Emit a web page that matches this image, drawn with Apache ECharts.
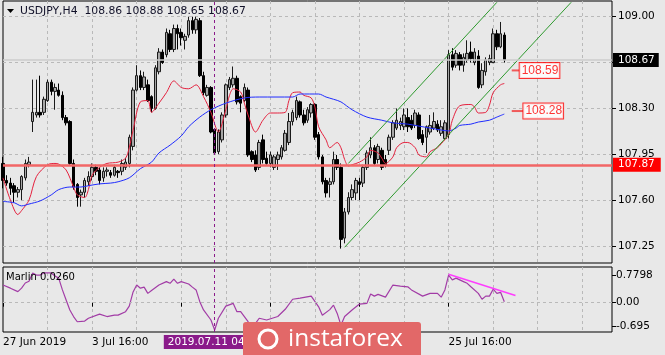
<!DOCTYPE html>
<html>
<head>
<meta charset="utf-8">
<title>USDJPY H4</title>
<script src="https://cdn.jsdelivr.net/npm/echarts@6/dist/echarts.min.js"></script>
<style>
  html, body { margin: 0; padding: 0; background: #e8e8e8; }
  #chart { width: 665px; height: 355px; }
</style>
</head>
<body>
<div id="chart"></div>
<script>
  // 136 H4 bars, the rest of the slots is the empty chart shift on the right
  const slotCount = 165
  const xTickLabels = {0: '27 Jun 2019', 24: '3 Jul 16:00', 120: '25 Jul 16:00'}

  // [open, close, low, high]
  const candles = [
    [107.88, 107.75, 107.69, 107.93], [107.75, 107.73, 107.71, 107.79], [107.73, 107.69, 107.64, 107.77],
    [107.71, 107.66, 107.58, 107.73], [107.66, 107.68, 107.62, 107.70], [107.68, 107.78, 107.60, 107.79],
    [107.77, 107.88, 107.75, 107.91], [107.87, 107.89, 107.85, 107.93], [108.20, 108.27, 108.12, 108.52],
    [108.25, 108.27, 108.23, 108.52], [108.27, 108.25, 108.23, 108.55], [108.27, 108.37, 108.25, 108.39],
    [108.36, 108.50, 108.35, 108.52], [108.50, 108.43, 108.40, 108.52], [108.43, 108.46, 108.29, 108.49],
    [108.44, 108.40, 108.39, 108.49], [108.40, 108.23, 108.21, 108.43], [108.23, 108.19, 108.17, 108.25],
    [108.20, 107.88, 107.87, 108.21], [107.88, 107.70, 107.68, 107.91], [107.72, 107.62, 107.55, 107.73],
    [107.64, 107.66, 107.55, 107.68], [107.66, 107.75, 107.62, 107.77], [107.74, 107.78, 107.71, 107.82],
    [107.78, 107.85, 107.75, 107.88], [107.85, 107.82, 107.79, 107.87], [107.83, 107.75, 107.72, 107.85],
    [107.77, 107.82, 107.74, 107.85], [107.82, 107.83, 107.78, 107.85], [107.81, 107.79, 107.77, 107.83],
    [107.79, 107.85, 107.78, 107.87], [107.82, 107.81, 107.77, 107.83], [107.82, 107.88, 107.79, 107.91],
    [107.85, 107.89, 107.83, 107.92], [107.88, 108.08, 107.85, 108.10], [108.01, 108.44, 107.98, 108.46],
    [108.44, 108.55, 108.43, 108.63], [108.55, 108.46, 108.44, 108.59], [108.46, 108.54, 108.44, 108.58],
    [108.48, 108.36, 108.35, 108.52], [108.39, 108.30, 108.27, 108.40], [108.30, 108.61, 108.29, 108.63],
    [108.58, 108.73, 108.56, 108.76], [108.73, 108.65, 108.64, 108.75], [108.71, 108.88, 108.69, 108.91],
    [108.87, 108.75, 108.73, 108.90], [108.75, 108.91, 108.73, 108.94], [108.91, 108.87, 108.75, 108.94],
    [108.88, 108.84, 108.78, 108.91], [108.82, 108.85, 108.75, 108.87], [108.86, 108.97, 108.84, 109.00],
    [108.97, 108.90, 108.87, 109.00], [108.90, 108.98, 108.87, 109.00], [108.97, 108.55, 108.54, 108.99],
    [108.55, 108.42, 108.40, 108.58], [108.40, 108.46, 108.39, 108.48], [108.46, 108.12, 108.11, 108.47],
    [108.14, 107.96, 107.95, 108.15], [107.97, 108.12, 107.95, 108.14], [108.06, 108.25, 108.04, 108.27],
    [108.25, 108.48, 108.23, 108.49], [108.46, 108.52, 108.44, 108.54], [108.48, 108.53, 108.46, 108.62],
    [108.53, 108.35, 108.33, 108.55], [108.39, 108.34, 108.27, 108.40], [108.36, 108.46, 108.35, 108.49],
    [108.44, 107.945, 107.93, 108.46], [107.97, 107.91, 107.89, 107.98], [107.945, 107.83, 107.815, 107.98],
    [107.85, 108.04, 107.83, 108.06], [108.06, 107.91, 107.88, 108.10], [107.92, 107.88, 107.87, 107.97],
    [107.88, 107.945, 107.85, 107.97], [107.85, 107.93, 107.83, 107.945], [107.91, 107.945, 107.83, 107.97],
    [107.93, 108.00, 107.91, 108.02], [107.98, 108.11, 107.97, 108.135], [108.04, 108.20, 108.02, 108.265],
    [108.20, 108.27, 108.17, 108.29], [108.23, 108.36, 108.21, 108.39], [108.35, 108.25, 108.23, 108.36],
    [108.25, 108.19, 108.17, 108.29], [108.21, 108.29, 108.19, 108.31], [108.265, 108.33, 108.23, 108.34],
    [108.33, 108.08, 108.06, 108.34], [108.10, 107.93, 107.91, 108.12], [107.93, 107.74, 107.72, 107.945],
    [107.75, 107.655, 107.62, 107.77], [107.72, 107.74, 107.62, 107.77], [107.74, 107.91, 107.72, 107.97],
    [107.91, 107.85, 107.83, 107.945], [107.85, 107.30, 107.23, 107.88], [107.31, 107.51, 107.27, 107.54],
    [107.51, 107.62, 107.49, 107.66], [107.62, 107.68, 107.60, 107.72], [107.655, 107.75, 107.60, 107.77],
    [107.74, 107.72, 107.60, 107.77], [107.73, 107.85, 107.70, 107.87], [107.85, 107.96, 107.83, 107.98],
    [107.945, 108.00, 107.92, 108.08], [108.00, 107.88, 107.86, 108.02], [107.91, 108.01, 107.88, 108.03],
    [107.98, 107.85, 107.83, 108.00], [107.91, 107.87, 107.85, 107.945], [107.98, 108.08, 107.945, 108.10],
    [108.08, 108.19, 108.06, 108.21], [108.15, 108.21, 108.135, 108.30], [108.17, 108.20, 108.135, 108.23],
    [108.16, 108.25, 108.135, 108.30], [108.23, 108.16, 108.12, 108.30], [108.21, 108.15, 108.135, 108.25],
    [108.17, 108.265, 108.15, 108.29], [108.25, 108.07, 108.06, 108.27], [108.10, 108.04, 108.02, 108.135],
    [108.08, 108.16, 107.96, 108.17], [108.12, 108.17, 108.10, 108.25], [108.15, 108.20, 108.135, 108.27],
    [108.18, 108.135, 108.12, 108.21], [108.11, 108.16, 108.09, 108.21], [108.07, 108.19, 108.06, 108.21],
    [108.10, 108.71, 108.07, 108.745], [108.71, 108.615, 108.59, 108.76], [108.63, 108.72, 108.61, 108.745],
    [108.71, 108.63, 108.59, 108.73], [108.63, 108.69, 108.58, 108.72], [108.67, 108.72, 108.65, 108.82],
    [108.73, 108.68, 108.65, 108.81], [108.65, 108.73, 108.63, 108.76], [108.70, 108.46, 108.45, 108.745],
    [108.48, 108.59, 108.455, 108.645], [108.58, 108.67, 108.55, 108.69], [108.65, 108.68, 108.63, 108.71],
    [108.65, 108.87, 108.646, 108.91], [108.87, 108.77, 108.745, 108.90], [108.77, 108.87, 108.76, 108.96],
    [108.86, 108.67, 108.65, 108.88]
  ]

  // moving averages, [bar index, price]
  const redMA = [
    [0, 107.77], [2, 107.60], [4, 107.49], [5, 107.52], [7, 107.60], [9, 107.78], [12, 107.87], [14, 107.88],
    [15, 107.875], [17, 107.83], [19, 107.70], [20, 107.64], [22, 107.62], [23, 107.68], [24, 107.79],
    [26, 107.85], [28, 107.88], [31, 107.89], [33, 107.92], [34, 108.0], [35, 108.13], [37, 108.35],
    [39, 108.36], [40, 108.27], [42, 108.34], [44, 108.42], [46, 108.51], [48, 108.46], [50, 108.45],
    [52, 108.48], [54, 108.39], [56, 108.27], [58, 108.12], [60, 108.29], [61, 108.40], [62, 108.45],
    [64, 108.425], [65, 108.34], [66, 108.25], [68, 108.12], [70, 108.21], [72, 108.265], [74, 108.265],
    [76, 108.27], [77, 108.36], [78, 108.42], [80, 108.425], [81, 108.40], [83, 108.38], [84, 108.31],
    [85, 108.16], [87, 108.06], [88, 108.0], [90, 108.04], [91, 108.0], [92, 107.91], [93, 107.86],
    [94, 107.87], [96, 107.89], [98, 107.93], [99, 107.98], [101, 107.96], [102, 107.92], [103, 107.88],
    [105, 107.93], [106, 108.0], [108, 108.04], [109, 108.04], [111, 108.0], [112, 107.945], [114, 107.93],
    [115, 107.97], [117, 108.0], [118, 108.03], [120, 108.10], [121, 108.21], [123, 108.32], [126, 108.33],
    [127, 108.31], [128, 108.265], [130, 108.27], [131, 108.325], [132, 108.42], [134, 108.48], [135, 108.49]
  ]
  const blueMA = [
    [0, 107.59], [3, 107.58], [5, 107.556], [7, 107.57], [10, 107.594], [13, 107.64], [15, 107.68],
    [18, 107.70], [21, 107.70], [23, 107.71], [26, 107.724], [29, 107.73], [31, 107.74], [34, 107.77],
    [37, 107.84], [40, 107.89], [42, 107.96], [45, 108.02], [48, 108.09], [50, 108.16], [53, 108.234],
    [56, 108.29], [60, 108.34], [65, 108.38], [69, 108.387], [78, 108.387], [80, 108.41], [85, 108.41],
    [87, 108.387], [89, 108.37], [91, 108.35], [94, 108.29], [98, 108.234], [102, 108.21], [105, 108.19],
    [109, 108.18], [112, 108.165], [115, 108.15], [118, 108.135], [120, 108.128], [122, 108.15],
    [123, 108.17], [126, 108.18], [128, 108.196], [131, 108.21], [133, 108.234], [135, 108.257]
  ]

  // Marlin oscillator, [bar index, value]
  const marlin = [
    [0, 0.51], [2, 0.42], [4, 0.32], [5, 0.42], [6, 0.57], [7, 0.62], [8, 0.86], [9, 0.80], [10, 0.80],
    [11, 0.86], [13, 0.86], [14, 0.77], [15, 0.71], [16, 0.37], [17, 0.08], [18, -0.21], [19, -0.40],
    [20, -0.55], [22, -0.53], [23, -0.45], [26, -0.33], [28, -0.40], [30, -0.36], [31, -0.36], [33, -0.26],
    [34, -0.10], [35, 0.30], [36, 0.51], [37, 0.42], [38, 0.45], [39, 0.27], [40, 0.35], [42, 0.51],
    [44, 0.61], [45, 0.56], [46, 0.68], [47, 0.56], [48, 0.61], [50, 0.54], [51, 0.45], [52, 0.37],
    [53, 0.03], [54, -0.21], [56, -0.50], [57, -0.79], [58, -0.45], [60, -0.10], [62, -0.02], [63, -0.26],
    [64, -0.26], [66, -0.55], [67, -0.70], [68, -0.60], [69, -0.45], [71, -0.50], [74, -0.40], [76, -0.19],
    [78, 0.10], [80, 0.13], [83, 0.19], [85, -0.12], [86, -0.36], [88, -0.20], [89, -0.07], [90, -0.31],
    [91, -0.65], [92, -0.40], [94, -0.21], [96, -0.04], [98, -0.02], [99, 0.25], [100, 0.19], [101, 0.24],
    [103, 0.16], [105, 0.51], [107, 0.48], [109, 0.46], [110, 0.37], [113, 0.19], [115, 0.27], [117, 0.27],
    [118, 0.16], [119, 0.37], [120, 0.80], [121, 0.66], [122, 0.71], [124, 0.61], [125, 0.56], [126, 0.46],
    [128, 0.27], [129, 0.10], [130, 0.19], [131, 0.19], [132, 0.39], [133, 0.27], [134, 0.30], [135, 0.03]
  ]

  // drawn objects
  const channelLow = [[92, 107.24], [153, 109.11]]
  const channelHigh = [[93, 107.88], [133, 109.11]]
  const marlinTrend = [[120, 0.82], [138, 0.21]]
  const tagLow = {value: 108.28, from: 137, at: 140}
  const tagHigh = {value: 108.59, from: 137, at: 139}

  const priceTicks = [109.00, 108.65, 108.30, 107.95, 107.60, 107.25]
  const priceLabels = [109.00, 108.30, 107.95, 107.60, 107.25]
  const marlinTicks = [0.7798, 0, -0.695]
  const hLine = 107.87
  const lastPrice = 108.67
  const vLineIndex = 57
  const vLineLabel = '2019.07.11 04:00'

  const font = 'DejaVu Sans'
  const slots = Array.from({length: slotCount}, (_, i) => String(i))
  const last = candles[candles.length - 1]
  const title = 'USDJPY,H4  ' + [last[0], last[3], last[2], last[1]].map(v => v.toFixed(2)).join(' ')

  const gridDash = {color: '#b9b9b9', type: [3, 3], width: 1}

  const chart = echarts.init(document.getElementById('chart'))

  const tagLabel = {
    show: true,
    position: 'right',
    distance: 0,
    formatter: p => p.value[1].toFixed(2),
    color: '#ff0000',
    backgroundColor: '#ffffff',
    borderColor: '#ff0000',
    borderWidth: 1,
    padding: [2, 1, 1, 2],
    fontFamily: 'Liberation Sans',
    fontSize: 12
  }

  chart.setOption({
    backgroundColor: '#e8e8e8',
    animation: false,
    grid: [
      {left: 3, top: 1, width: 609, height: 262, show: true, borderColor: '#000', borderWidth: 1},
      {left: 3, top: 267, width: 609, height: 65, show: true, borderColor: '#000', borderWidth: 1}
    ],
    xAxis: [
      {
        type: 'category', gridIndex: 0, data: slots, boundaryGap: false,
        axisLine: {show: false}, axisTick: {show: false}, axisLabel: {show: false},
        splitLine: {show: true, interval: i => i % 12 === 0 && i > 0, lineStyle: gridDash}
      },
      {
        type: 'category', gridIndex: 1, data: slots, boundaryGap: false,
        axisLine: {show: false},
        axisTick: {show: true, interval: i => i % 24 === 0 && i <= 120, length: 4, lineStyle: {color: '#000'}},
        axisLabel: {
          show: true,
          interval: i => xTickLabels[i] !== undefined,
          formatter: v => xTickLabels[v] || '',
          align: 'left', margin: 5, color: '#000', fontFamily: font, fontSize: 10.5
        },
        splitLine: {show: true, interval: i => i % 12 === 0 && i > 0, lineStyle: gridDash}
      }
    ],
    yAxis: [
      {
        type: 'value', gridIndex: 0, position: 'right', min: 107.12, max: 109.12,
        axisLine: {show: false},
        axisTick: {show: true, customValues: priceTicks, length: 4, lineStyle: {color: '#000'}},
        axisLabel: {
          customValues: priceLabels, formatter: v => v.toFixed(2),
          margin: 6, color: '#000', fontFamily: font, fontSize: 10.5
        },
        splitLine: {show: true, lineStyle: gridDash}
      },
      {
        type: 'value', gridIndex: 1, position: 'right', min: -0.847, max: 1.032,
        axisLine: {show: false},
        axisTick: {show: true, customValues: marlinTicks, length: 4, lineStyle: {color: '#000'}},
        axisLabel: {
          customValues: marlinTicks, formatter: v => (v === 0 ? '0.00' : String(v)),
          margin: 4, color: '#000', fontFamily: font, fontSize: 10.5
        },
        splitLine: {show: false}
      }
    ],
    series: [
      {
        type: 'candlestick',
        name: 'USDJPY',
        xAxisIndex: 0, yAxisIndex: 0,
        data: candles,
        barWidth: 3,
        itemStyle: {
          color: '#a6a6a6', color0: '#000000',
          borderColor: '#1a1a1a', borderColor0: '#000000', borderWidth: 1
        },
        markLine: {
          symbol: 'none', silent: true, animation: false,
          data: [
            {
              yAxis: lastPrice,
              lineStyle: {color: '#cdcdcd', type: 'solid', width: 1.5},
              label: {
                show: true, position: 'end', distance: 1, formatter: lastPrice.toFixed(2),
                backgroundColor: '#000', color: '#fff', padding: [2, 4, 1, 5],
                fontFamily: font, fontSize: 10.5
              }
            },
            {
              yAxis: hLine,
              lineStyle: {color: '#f26666', type: 'solid', width: 2.5},
              label: {
                show: true, position: 'end', distance: 1, formatter: hLine.toFixed(2),
                backgroundColor: '#ff0000', color: '#fff', padding: [2, 6, 1, 5],
                fontFamily: font, fontSize: 10.5
              }
            },
            {
              xAxis: vLineIndex,
              lineStyle: {color: '#8a1a8a', type: [3, 3], width: 1},
              label: {show: false}
            }
          ]
        }
      },
      {
        type: 'line', name: 'MA fast', xAxisIndex: 0, yAxisIndex: 0, data: redMA,
        showSymbol: false, smooth: 0.3, lineStyle: {color: '#e5213e', width: 1}, z: 3
      },
      {
        type: 'line', name: 'MA slow', xAxisIndex: 0, yAxisIndex: 0, data: blueMA,
        showSymbol: false, smooth: 0.3, lineStyle: {color: '#1f2cff', width: 1}, z: 3
      },
      {
        type: 'line', name: 'channel low', xAxisIndex: 0, yAxisIndex: 0, data: channelLow,
        showSymbol: false, lineStyle: {color: '#2e9a2e', width: 1}, z: 4
      },
      {
        type: 'line', name: 'channel high', xAxisIndex: 0, yAxisIndex: 0, data: channelHigh,
        showSymbol: false, lineStyle: {color: '#2e9a2e', width: 1}, z: 4
      },
      {
        type: 'line', xAxisIndex: 0, yAxisIndex: 0,
        data: [[tagHigh.from, tagHigh.value], [tagHigh.at, tagHigh.value]],
        showSymbol: false, lineStyle: {color: '#f05a5a', width: 2}, z: 4
      },
      {
        type: 'line', xAxisIndex: 0, yAxisIndex: 0,
        data: [[tagLow.from, tagLow.value], [tagLow.at, tagLow.value]],
        showSymbol: false, lineStyle: {color: '#f05a5a', width: 2}, z: 4
      },
      {
        type: 'scatter', xAxisIndex: 0, yAxisIndex: 0,
        data: [[tagHigh.at, tagHigh.value], [tagLow.at, tagLow.value]],
        symbolSize: 1, itemStyle: {color: '#f05a5a'}, label: tagLabel, z: 5
      },
      {
        type: 'line', name: 'Marlin', xAxisIndex: 1, yAxisIndex: 1, data: marlin,
        showSymbol: false, lineStyle: {color: '#a23ca6', width: 1.2},
        markLine: {
          symbol: 'none', silent: true, animation: false,
          data: [
            {yAxis: 0, lineStyle: gridDash, label: {show: false}},
            {
              xAxis: vLineIndex,
              lineStyle: {color: '#8a1a8a', type: [3, 3], width: 1},
              label: {
                show: true, position: 'start', distance: 3, formatter: vLineLabel,
                backgroundColor: '#8a1a8a', color: '#fff', padding: [2, 4, 1, 4],
                fontFamily: font, fontSize: 10.5
              }
            }
          ]
        }
      },
      {
        type: 'line', name: 'Marlin trend', xAxisIndex: 1, yAxisIndex: 1, data: marlinTrend,
        showSymbol: false, lineStyle: {color: '#ff3cff', width: 1.5}, z: 4
      }
    ],
    graphic: [
      {type: 'polygon', shape: {points: [[7, 9], [14, 9], [10.5, 13]]}, style: {fill: '#000'}, z: 50},
      {
        type: 'text', x: 20, y: 11,
        style: {text: title, fill: '#101028', font: '10.8px "DejaVu Sans"', verticalAlign: 'middle'}, z: 50
      },
      {
        type: 'text', x: 6, y: 277,
        style: {text: 'Marlin 0.0260', fill: '#000', font: '10px "DejaVu Sans"', verticalAlign: 'middle'}, z: 50
      },
      {
        type: 'group', z: 100,
        children: [
          {type: 'rect', shape: {x: 243, y: 322, width: 178, height: 40, r: 3}, style: {fill: '#e26868'}, z: 100},
          {
            type: 'circle', shape: {cx: 268, cy: 339, r: 9},
            style: {fill: 'none', stroke: '#ffffff', lineWidth: 3}, z: 101
          },
          {
            type: 'text', x: 288, y: 339,
            style: {text: 'instaforex', fill: '#ffffff', font: '24.5px "Open Sans"', verticalAlign: 'middle'}, z: 101
          }
        ]
      }
    ]
  })
</script>
</body>
</html>
